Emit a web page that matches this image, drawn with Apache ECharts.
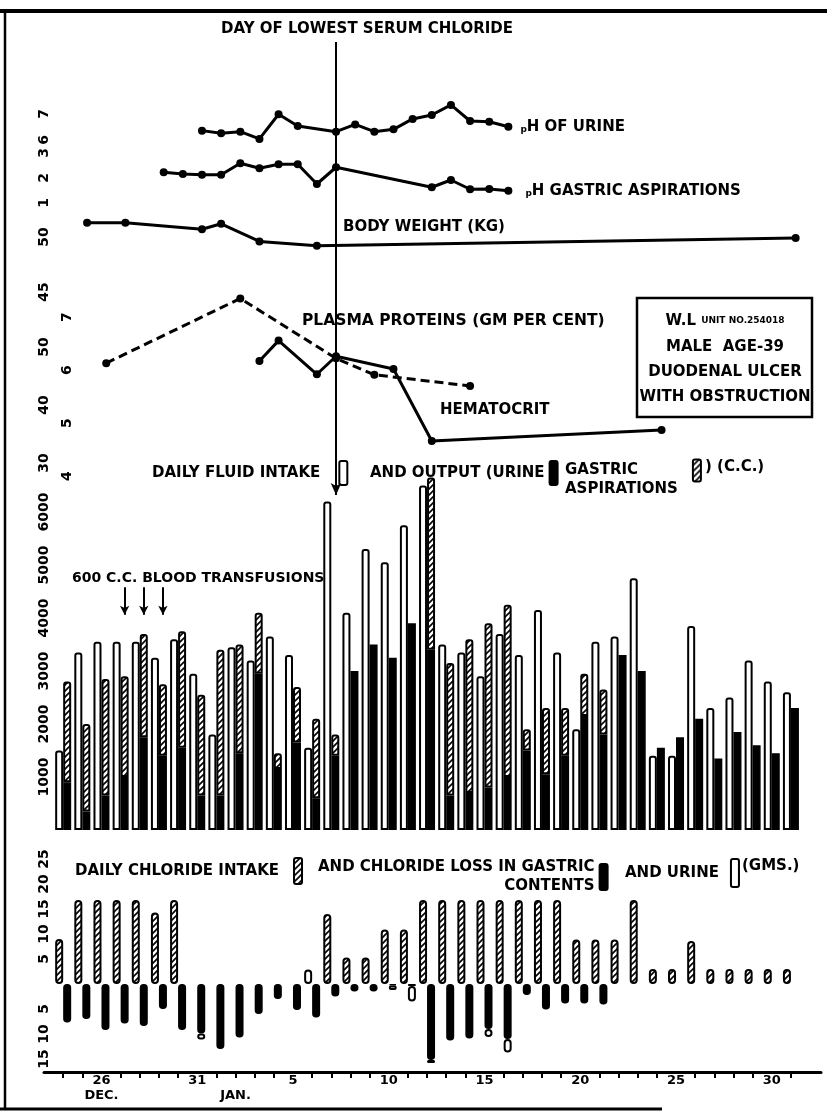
<!DOCTYPE html>
<html>
<head>
<meta charset="utf-8">
<script src="https://cdn.jsdelivr.net/npm/echarts@6/dist/echarts.min.js"></script>
<style>
  html, body { margin: 0; background: #fff; }
  #chart { width: 827px; height: 1113px; }
</style>
</head>
<body>
<div id="chart"></div>
<script>
// days: Dec 24 (index 0) .. Jan 31 (index 38)
const days = ['24', '25', '26', '27', '28', '29', '30', '31',
  '1', '2', '3', '4', '5', '6', '7', '8', '9', '10', '11', '12', '13', '14', '15', '16',
  '17', '18', '19', '20', '21', '22', '23', '24', '25', '26', '27', '28', '29', '30', '31']
const labeledDays = [2, 7, 12, 17, 22, 27, 32, 37]
const months = ['DEC.', 'JAN.']
const monthDays = [2, 9]

// line charts (x = day index)
const urinePhDays = [7, 8, 9, 10, 11, 12, 14, 15, 16, 17, 18, 19, 20, 21, 22, 23]
const urinePh = [6.36, 6.26, 6.32, 6.04, 6.99, 6.54, 6.32, 6.6, 6.32, 6.41, 6.81, 6.96, 7.35, 6.73, 6.7, 6.51]
const gastricPhDays = [5, 6, 7, 8, 9, 10, 11, 12, 13, 14, 19, 20, 21, 22, 23]
const gastricPh = [2.23, 2.16, 2.13, 2.13, 2.59, 2.39, 2.55, 2.55, 1.76, 2.43, 1.63, 1.92, 1.55, 1.56, 1.49]
const weightDays = [1, 3, 7, 8, 10, 13, 38]
const weight = [51.3, 51.3, 50.7, 51.2, 49.6, 49.2, 49.9]
const proteinDays = [2, 9, 14, 16, 21]
const protein = [6.13, 7.35, 6.22, 5.91, 5.7]
const hctDays = [10, 11, 13, 14, 17, 19, 31]
const hct = [47.6, 51.1, 45.3, 48.4, 46.2, 33.8, 35.7]
const lowestChlorideDay = 14

// daily fluid (c.c.)
const fluidIntake = [1500, 3350, 3550, 3550, 3550, 3250, 3600, 2950, 1800, 3450, 3200, 3650, 3300, 1550, 6200, 4100, 5300, 5050, 5750, 6500,
  3500, 3350, 2900, 3700, 3300, 4150, 3350, 1900, 3550, 3650, 4750, 1400, 1400, 3850, 2300, 2500, 3200, 2800, 2600]
const urineOut = [900, 350, 650, 1000, 1750, 1400, 1550, 650, 650, 1450, 2950, 1150, 1650, 600, 1400, 3000, 3500, 3250, 3900, 3400,
  650, 700, 800, 1000, 1500, 1050, 1400, 2150, 1800, 3300, 3000, 1550, 1750, 2100, 1350, 1850, 1600, 1450, 2300]
const gastricOut = [1900, 1650, 2200, 1900, 1950, 1350, 2200, 1900, 2750, 2050, 1150, 300, 1050, 1500, 400, null, null, null, null, 3250,
  2500, 2900, 3100, 3250, 400, 1250, 900, 800, 850, null, null, null, null, null, null, null, null, null, null]
const transfusionDays = [3, 4, 5]

// chloride (gms)
const clIntake = [9.0, 16.8, 16.8, 16.8, 16.8, 14.3, 16.8, null, null, null, null, null, null, null, 14.0, 5.3, 5.3, 10.9, 10.9, 16.8,
  16.8, 16.8, 16.8, 16.8, 16.8, 16.8, 16.8, 8.9, 8.9, 8.9, 16.8, 3.0, 3.0, 8.6, 3.0, 3.0, 3.0, 3.0, 3.0]
const clUrineOpen = [null, null, null, null, null, null, null, null, null, null, null, null, null, 2.9, null, null, null, null, null, null,
  null, null, null, null, null, null, null, null, null, null, null, null, null, null, null, null, null, null, null]
const clGastricLoss = [7.7, 7.0, 9.2, 7.9, 8.4, 5.0, 9.2, 9.9, 13.0, 10.7, 6.0, 3.0, 5.2, 6.7, 2.5, 1.5, 1.5, 0.3, 0.4, 15.2,
  11.3, 10.9, 9.0, 11.0, 2.2, 5.1, 3.9, 3.9, 4.1, null, null, null, null, null, null, null, null, null, null]
const clUrineLoss = [null, null, null, null, null, null, null, 1.2, null, null, null, null, null, null, null, null, null, 0.9, 3.1, 0.6,
  null, null, 1.6, 2.7, null, null, null, null, null, null, null, null, null, null, null, null, null, null, null]

const FONT = 'DejaVu Sans'
const font = { fontFamily: FONT, fontWeight: 'bold', color: '#000' }

function hatch() {
  const c = document.createElement('canvas')
  c.width = 6
  c.height = 6
  const ctx = c.getContext('2d')
  ctx.fillStyle = '#fff'
  ctx.fillRect(0, 0, 6, 6)
  ctx.strokeStyle = '#000'
  ctx.lineWidth = 1.6
  ctx.beginPath()
  ctx.moveTo(-1, 7); ctx.lineTo(7, -1)
  ctx.moveTo(-4, 4); ctx.lineTo(4, -4)
  ctx.moveTo(2, 10); ctx.lineTo(10, 2)
  ctx.stroke()
  return { image: c, repeat: 'repeat' }
}
const HATCH = hatch()

const pairs = (xs, ys) => xs.map((x, i) => [x, ys[i]])
const neg = arr => arr.map(v => (v == null ? null : -v))
const dayKeys = days.map((d, i) => 'd' + i)

function lineAxis(min, max, labels, offset) {
  return {
    type: 'value', gridIndex: 0, min: min, max: max, position: 'left', offset: offset,
    axisLine: { show: false }, axisTick: { show: false }, splitLine: { show: false },
    axisLabel: Object.assign({ customValues: labels, rotate: 90, margin: 8, fontSize: 14 }, font)
  }
}

function lineSeries(name, yIdx, data, dashed) {
  return {
    name: name, type: 'line', xAxisIndex: 0, yAxisIndex: yIdx, data: data,
    symbol: 'circle', symbolSize: 8, itemStyle: { color: '#000' },
    lineStyle: { color: '#000', width: 3, type: dashed ? [9, 5] : 'solid' }
  }
}

function txt(text, x, y, size, align) {
  return {
    type: 'text', x: x, y: y,
    style: { text: text, fill: '#000', font: 'bold ' + (size || 15) + 'px "' + FONT + '"', align: align || 'left', verticalAlign: 'middle' }
  }
}

function legendAt(name, left, top, h, extra) {
  return Object.assign({
    data: [name], left: left, top: top, align: 'right', itemWidth: 8, itemHeight: h,
    selectedMode: false, textStyle: Object.assign({ fontSize: 15 }, font)
  }, extra || {})
}

const richFont = { fontSize: 15, fontFamily: FONT, fontWeight: 'bold', color: '#000' }
const whiteBar = { color: '#fff', borderColor: '#000', borderWidth: 2, borderRadius: [2, 2, 0, 0] }
const blackBar = { color: '#000', borderColor: '#000', borderWidth: 1.5 }
const hatchBar = { color: HATCH, borderColor: '#000', borderWidth: 2, borderRadius: [2, 2, 0, 0] }
const hiddenCat = g => ({ type: 'category', gridIndex: g, data: dayKeys, show: false })

function bar(name, xIdx, yIdx, data, style, stack) {
  return { name: name, type: 'bar', xAxisIndex: xIdx, yAxisIndex: yIdx, barWidth: 8, barGap: '0%', stack: stack, data: data, itemStyle: style }
}

const chart = echarts.init(document.getElementById('chart'))
chart.setOption({
  animation: false,
  backgroundColor: '#fff',
  grid: [
    { left: 44, width: 766, top: 42, height: 453 },
    { left: 53.6, width: 746.9, top: 459, height: 371 },
    { left: 53.6, width: 746.9, top: 859, height: 213 },
    { left: 44, width: 777, top: 1071, height: 1 }
  ],
  xAxis: [
    { type: 'value', gridIndex: 0, min: -1.25, max: 38.75, show: false },
    hiddenCat(1),
    hiddenCat(2),
    {
      type: 'value', gridIndex: 3, min: -1, max: 39.57, position: 'bottom',
      axisLine: { onZero: false, lineStyle: { color: '#000', width: 3 } },
      axisTick: {
        customValues: days.map((d, i) => i).filter(i => labeledDays.indexOf(i) < 0),
        length: 6, lineStyle: { color: '#000', width: 2 }
      },
      splitLine: { show: false },
      axisLabel: Object.assign({
        customValues: labeledDays.concat([9]),
        margin: 1, fontSize: 13, lineHeight: 15,
        formatter: v => {
          const m = monthDays.indexOf(v)
          const d = labeledDays.indexOf(v) >= 0 ? days[v] : ''
          return m >= 0 ? d + '\n' + months[m] : d
        }
      }, font)
    }
  ],
  yAxis: [
    lineAxis(-7.654, 9.769, [6, 7], -15),
    lineAxis(-10.68, 7.44, [1, 2, 3], -15),
    lineAxis(26.545, 67.727, [45, 50], -15),
    lineAxis(3.642, 12.189, [4, 5, 6, 7], -38),
    lineAxis(24.483, 102.586, [30, 40, 50], -15),
    {
      type: 'value', gridIndex: 1, min: 0, max: 7000, offset: -5.6,
      axisLine: { show: false }, axisTick: { show: false }, splitLine: { show: false },
      axisLabel: Object.assign({ customValues: [1000, 2000, 3000, 4000, 5000, 6000], rotate: 90, margin: 8, fontSize: 14, formatter: v => String(v) }, font)
    },
    {
      type: 'value', gridIndex: 2, min: -17.6, max: 25, offset: -5.6,
      axisLine: { show: false }, axisTick: { show: false }, splitLine: { show: false },
      axisLabel: Object.assign({
        customValues: [-15, -10, -5, 5, 10, 15, 20, 25], rotate: 90, margin: 8, fontSize: 14,
        formatter: v => String(Math.abs(v))
      }, font)
    },
    { type: 'value', gridIndex: 3, show: false }
  ],
  legend: [
    legendAt('DAILY FLUID INTAKE', 147, 455, 24, { textStyle: Object.assign({ fontSize: 15, padding: [0, 14, 0, 0] }, font) }),
    legendAt('AND OUTPUT (URINE', 365, 455, 24),
    legendAt('GASTRIC\nASPIRATIONS', 560, 437, 22, {
      formatter: () => '{a|GASTRIC}\n{a|ASPIRATIONS}',
      textStyle: Object.assign({ fontSize: 15, lineHeight: 19, padding: [19, 10, 0, 0], rich: { a: Object.assign({ align: 'left', lineHeight: 19 }, richFont) } }, font)
    }),
    legendAt('DAILY CHLORIDE INTAKE', 70, 852, 26, { textStyle: Object.assign({ fontSize: 15, padding: [0, 10, 0, 0] }, font) }),
    legendAt('AND CHLORIDE LOSS IN GASTRIC\nCONTENTS', 313, 855, 26, {
      formatter: () => '{a|AND CHLORIDE LOSS IN GASTRIC}\n{b|CONTENTS}',
      textStyle: Object.assign({ fontSize: 15, rich: { a: Object.assign({ align: 'left', lineHeight: 19 }, richFont), b: Object.assign({ align: 'right', lineHeight: 19 }, richFont) } }, font)
    }),
    legendAt('AND URINE', 620, 853, 28, { textStyle: Object.assign({ fontSize: 15, padding: [0, 7, 0, 0] }, font) })
  ],
  graphic: [
    { type: 'line', shape: { x1: 0, y1: 11, x2: 827, y2: 11 }, style: { stroke: '#000', lineWidth: 4 } },
    { type: 'line', shape: { x1: 5, y1: 10, x2: 5, y2: 1110 }, style: { stroke: '#000', lineWidth: 2.5 } },
    { type: 'line', shape: { x1: 0, y1: 1109, x2: 662, y2: 1109 }, style: { stroke: '#000', lineWidth: 3 } },
    txt('BODY WEIGHT (KG)', 343, 227),
    txt('PLASMA PROTEINS (GM PER CENT)', 302, 321, 15.5),
    txt('HEMATOCRIT', 440, 410),
    txt('600 C.C. BLOOD TRANSFUSIONS', 72, 578, 14),
    txt(') (C.C.)', 705, 467),
    txt('(GMS.)', 742, 866),
    { type: 'rect', shape: { x: 637, y: 298, width: 175, height: 119 }, style: { fill: 'none', stroke: '#000', lineWidth: 2.5 } },
    {
      type: 'text', x: 725, y: 321,
      style: {
        text: '{a|W.L }{b|UNIT NO.254018}', align: 'center', verticalAlign: 'middle',
        rich: { a: { font: 'bold 15px "' + FONT + '"', fill: '#000' }, b: { font: 'bold 9px "' + FONT + '"', fill: '#000' } }
      }
    },
    txt('MALE  AGE-39', 725, 347, 15, 'center'),
    txt('DUODENAL ULCER', 725, 372, 15, 'center'),
    txt('WITH OBSTRUCTION', 725, 397, 15, 'center')
  ],
  series: [
    Object.assign(lineSeries('pH of urine', 0, pairs(urinePhDays, urinePh)), {
      endLabel: {
        show: true, distance: 12, formatter: '{s|p}H OF URINE',
        fontSize: 15, fontFamily: FONT, fontWeight: 'bold', color: '#000',
        rich: { s: { fontSize: 9, fontFamily: FONT, fontWeight: 'bold', padding: [6, 0, 0, 0] } }
      },
      markLine: {
        silent: true, symbol: ['arrow', 'none'], symbolSize: [8, 12],
        lineStyle: { color: '#000', width: 2, type: 'solid' },
        label: {
          show: true, position: 'end', distance: 5, padding: [0, 0, 0, 62],
          formatter: 'DAY OF LOWEST SERUM CHLORIDE', fontSize: 15, fontFamily: FONT, fontWeight: 'bold', color: '#000'
        },
        data: [{ xAxis: lowestChlorideDay }]
      }
    }),
    Object.assign(lineSeries('pH gastric aspirations', 1, pairs(gastricPhDays, gastricPh)), {
      endLabel: {
        show: true, distance: 17, formatter: '{s|p}H GASTRIC ASPIRATIONS',
        fontSize: 15, fontFamily: FONT, fontWeight: 'bold', color: '#000',
        rich: { s: { fontSize: 9, fontFamily: FONT, fontWeight: 'bold', padding: [6, 0, 0, 0] } }
      }
    }),
    lineSeries('Body weight', 2, pairs(weightDays, weight)),
    lineSeries('Plasma proteins', 3, pairs(proteinDays, protein), true),
    lineSeries('Hematocrit', 4, pairs(hctDays, hct)),

    bar('DAILY FLUID INTAKE', 1, 5, fluidIntake, whiteBar, 'fluidIn'),
    Object.assign(bar('AND OUTPUT (URINE', 1, 5, urineOut, blackBar, 'fluidOut'), {
      markLine: {
        silent: true, symbol: ['none', 'arrow'], symbolSize: [7, 9],
        lineStyle: { color: '#000', width: 2, type: 'solid' }, label: { show: false },
        data: transfusionDays.map(d => [{ coord: [d, 4580] }, { coord: [d, 4060] }])
      }
    }),
    bar('GASTRIC\nASPIRATIONS', 1, 5, gastricOut, hatchBar, 'fluidOut'),

    bar('DAILY CHLORIDE INTAKE', 2, 6, clIntake, Object.assign({}, hatchBar, { borderRadius: 3 }), 'clIn'),
    bar('Urine chloride (open)', 2, 6, clUrineOpen, Object.assign({}, whiteBar, { borderRadius: 3 }), 'clIn'),
    bar('AND CHLORIDE LOSS IN GASTRIC\nCONTENTS', 2, 6, neg(clGastricLoss), Object.assign({}, blackBar, { borderRadius: 3 }), 'clOut'),
    bar('AND URINE', 2, 6, neg(clUrineLoss), Object.assign({}, whiteBar, { borderRadius: 3 }), 'clOut')
  ]
})
</script>
</body>
</html>
